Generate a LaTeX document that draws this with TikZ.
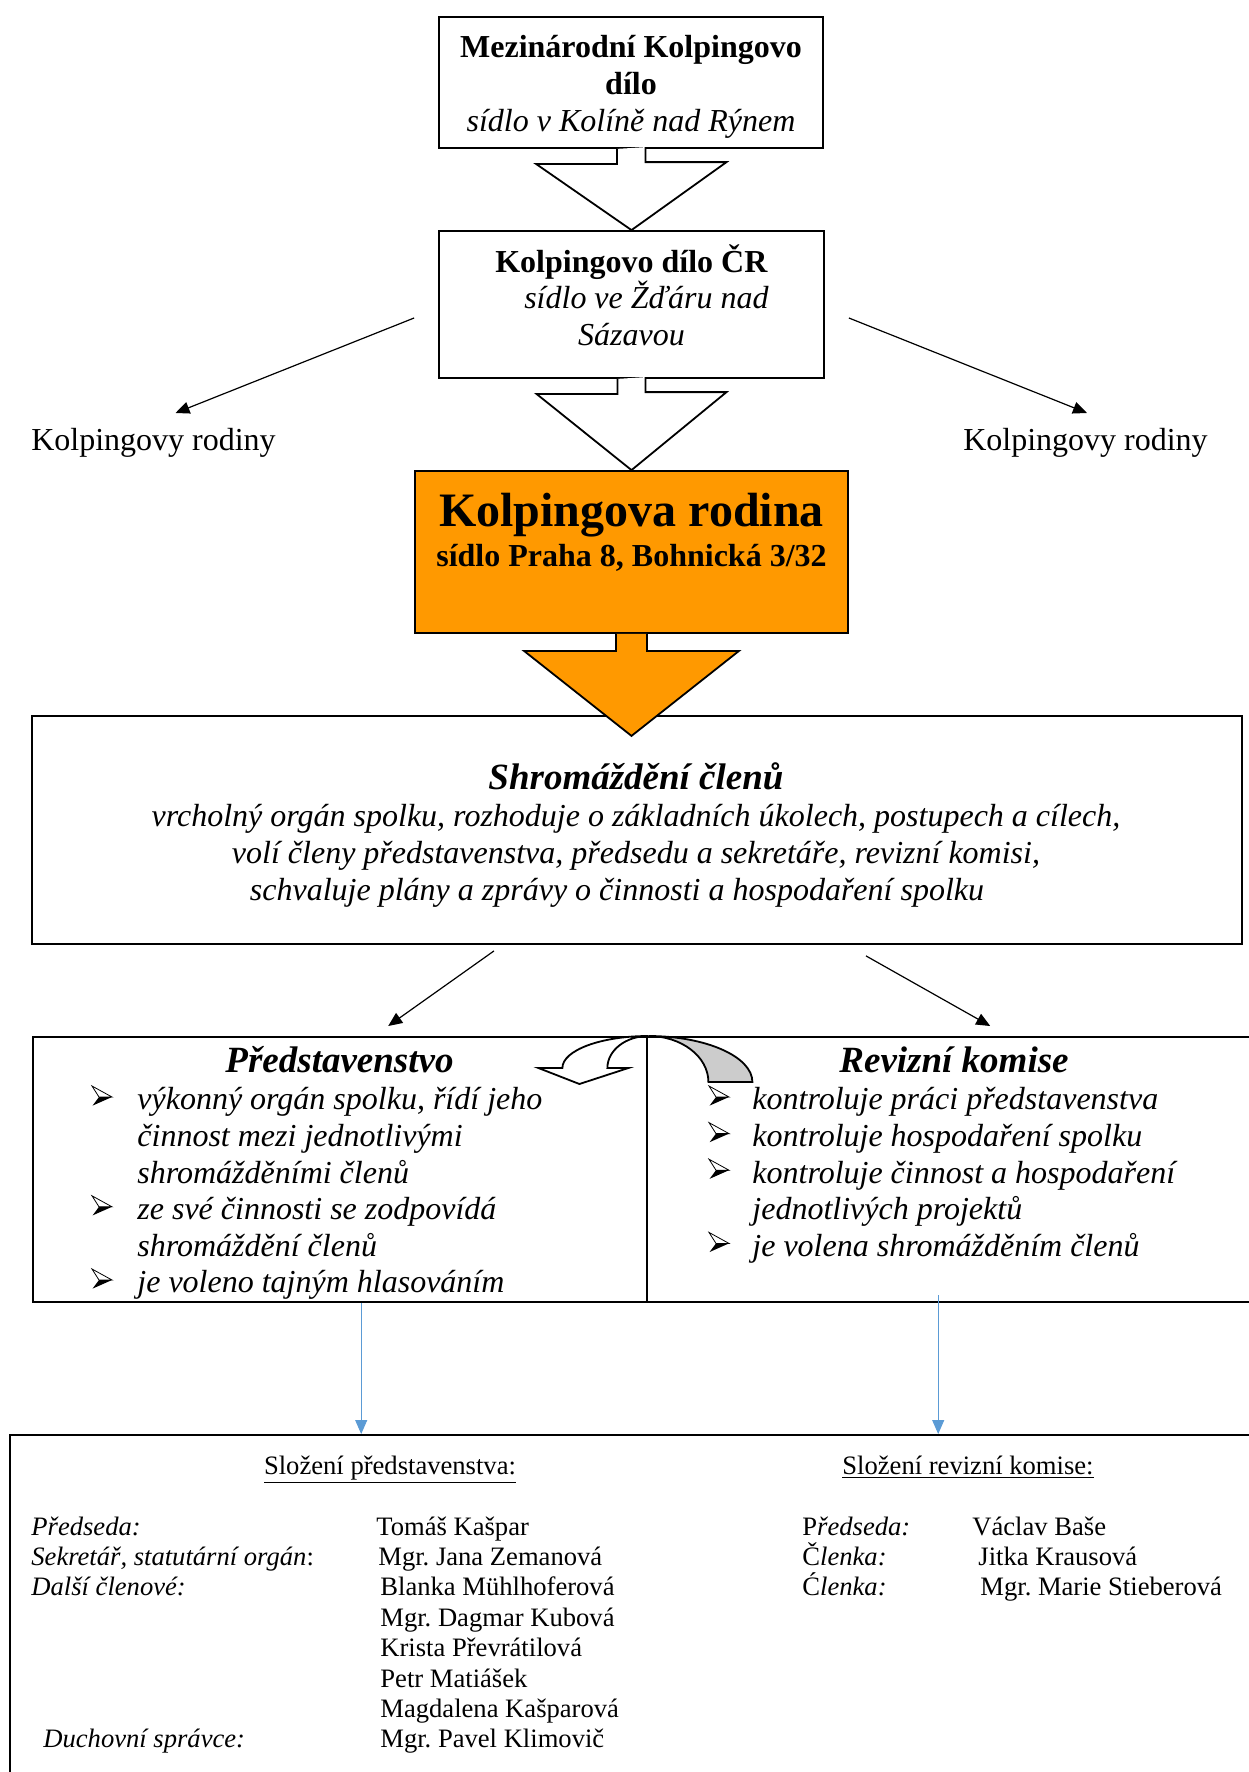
\documentclass[tikz,border=0pt]{standalone}
\usepackage{fontspec}
\setmainfont{Liberation Serif}
\frenchspacing
\usetikzlibrary{arrows.meta}

\definecolor{kporange}{HTML}{FF9900}
\definecolor{wordblue}{HTML}{5B9BD5}

\begin{document}
\begin{tikzpicture}[x=1pt, y=-1pt,
  box/.style={draw, line width=0.9pt, inner sep=0pt},
  hollow/.style={draw, fill=white, line width=0.9pt, line join=miter},
  arr/.style={-{Triangle[length=7pt, width=6pt]}, line width=0.6pt},
  bluearr/.style={-{Triangle[length=7pt, width=6pt]}, wordblue, line width=0.5pt},
  lbl/.style={anchor=base, yshift=-1.7pt, inner sep=0pt, text height=11pt, text depth=3.5pt, font=\fontsize{16}{18.5}\selectfont},
  itemline/.style={anchor=west, yshift=-1.7pt, inner sep=0pt, text height=11pt, text depth=3.5pt, font=\fontsize{16}{18.5}\selectfont\itshape},
  smalltxt/.style={anchor=west, yshift=-1pt, inner sep=0pt, text height=9pt, text depth=3pt, font=\fontsize{13.3}{15.25}\selectfont}]

\useasboundingbox (0,0) rectangle (624,886);

% top chain
\node (intl) [box, minimum width=192pt, minimum height=65.5pt] at (315.5,41.25) {};
\node (cr) [box, minimum width=192.5pt, minimum height=73.5pt] at (315.75,152.25) {};
\node (kr) [box, fill=kporange, minimum width=216.5pt, minimum height=81pt] at (315.75,276) {};
\foreach \y/\t [count=\i] in {27/\textbf{Mezinárodní Kolpingovo}, 45.5/\textbf{dílo}, 64/\textit{sídlo v Kolíně nad Rýnem}}
  \node (intl\i) [lbl] at (315.5,\y) {\t};
\foreach \y/\t [count=\i] in {134.7/\textbf{Kolpingovo dílo ČR}, 152.7/\hspace*{15pt}\textit{sídlo ve Žďáru nad}, 171.2/\textit{Sázavou}}
  \node (cr\i) [lbl] at (315.75,\y) {\t};
\node (kr1) [lbl, font=\fontsize{24}{28}\selectfont\bfseries] at (315.75,261.5) {Kolpingova rodina};
\node (kr2) [lbl, font=\fontsize{16}{18.5}\selectfont\bfseries] at (315.75,281.7) {sídlo Praha 8, Bohnická 3/32};

\foreach \a/\b/\d in {intl/cr/34, cr/kr/39}
  \draw [hollow] ([xshift=-7pt]\a.south) -- ++(0,7.5) -- ++(-40.5,0) -- (\b.north) -- ++(47.5,-\d) -- ++(-40.5,0) -- ++(0,-7.5);

% families
\node (famL) [lbl] at (76.75,223.7) {Kolpingovy rodiny};
\node (famR) [lbl] at (542.75,223.7) {Kolpingovy rodiny};
\draw [arr] ([xshift=-12pt, yshift=-6.75pt]cr.west) -- ([xshift=11pt, yshift=7.7pt]famL.north);
\draw [arr] ([xshift=12pt, yshift=-6.75pt]cr.east) -- ([xshift=0.75pt, yshift=7.7pt]famR.north);

% assembly
\node (shrom) [box, minimum width=605pt, minimum height=114pt] at (318.5,415) {};
\node (shrom0) [lbl, font=\fontsize{18.5}{20}\selectfont\bfseries\itshape] at (318,393) {Shromáždění členů};
\foreach \x/\y/\t [count=\i] in {318/411.7/{vrcholný orgán spolku, rozhoduje o základních úkolech, postupech a cílech,}, 318/430.2/{volí členy představenstva, předsedu a sekretáře, revizní komisi,}, 308.5/448.7/{schvaluje plány a zprávy o činnosti a hospodaření spolku}}
  \node (shrom\i) [lbl, font=\fontsize{16}{18.5}\selectfont\itshape] at (\x,\y) {\t};
\draw [hollow, fill=kporange] ([xshift=-7.75pt]kr.south) -- ++(0,8.5) -- ++(-46,0) -- ([yshift=-51pt]kr.south) -- ++(53.75,-42.5) -- ++(-46,0) -- ++(0,-8.5);

% board and audit
\node (pred) [box, line width=1.2pt, anchor=north west, minimum width=307pt, minimum height=132.5pt] at (16,518) {};
\node (rev) [box, line width=1.2pt, anchor=north west, minimum width=310pt, minimum height=132.5pt] at (323,518) {};
\draw [arr] ([xshift=-71.5pt, yshift=-3pt]shrom.south) -- ([xshift=24pt, yshift=5pt]pred.north);
\draw [arr] ([xshift=114.5pt, yshift=-5.5pt]shrom.south) -- ([xshift=16.5pt, yshift=5pt]rev.north);
\draw [hollow] (pred.north east) arc [start angle=90, end angle=180, x radius=43pt, y radius=16pt] -- ++(-12,0) -- ++(20.5,8) -- ++(24.5,-8) -- ++(-10.5,0) arc [start angle=180, end angle=90, x radius=20.5pt, y radius=16pt] -- cycle;
\draw [hollow, fill=gray!40] (pred.north east) arc [start angle=90, end angle=0, x radius=52pt, y radius=23pt] -- ++(-22,0) arc [start angle=0, end angle=90, x radius=30pt, y radius=23pt] -- cycle;

\node (predT) [lbl, font=\fontsize{18.5}{20}\selectfont\bfseries\itshape] at (169.75,534.5) {Představenstvo};
\node (revT) [lbl, font=\fontsize{18.5}{20}\selectfont\bfseries\itshape] at (477,534.5) {Revizní komise};
\foreach \t [count=\i] in {{výkonný orgán spolku, řídí jeho}, činnost mezi jednotlivými, shromážděními členů, ze své činnosti se zodpovídá, shromáždění členů, je voleno tajným hlasováním}
  \node (pl\i) [itemline] at (68.5,{549.5+18.3*(\i-1)}) {\t};
\foreach \t [count=\i] in {kontroluje práci představenstva, kontroluje hospodaření spolku, kontroluje činnost a hospodaření, jednotlivých projektů, je volena shromážděním členů}
  \node (rl\i) [itemline] at (376,{549.5+18.3*(\i-1)}) {\t};
% arrowhead bullets
\foreach \x/\i in {46/1, 46/4, 46/6, 354.5/1, 354.5/2, 354.5/3, 354.5/5} {
  \draw [fill=white, line width=0.4pt] (\x,{543+18.3*(\i-1)}) -- ++(10,5.5) -- ++(-6.5,0) -- cycle;
  \fill (\x+3.5,{548.5+18.3*(\i-1)}) -- ++(6.5,0) -- ++(-9.7,4.3) -- cycle;
}

% composition
\node (comp) [box, anchor=north west, minimum width=640pt, minimum height=200pt] at (4.5,717) {};
\coordinate (pout) at ([xshift=10.5pt]pred.south);
\coordinate (rout) at ([xshift=-9.5pt, yshift=4pt]rev.south);
\draw [bluearr] (pout) -- (pout |- comp.north);
\draw [bluearr] (rout) -- (rout |- comp.north);

\node (compP) [smalltxt, anchor=center] at (195,733) {\underline{Složení představenstva:}};
\node (compR) [smalltxt, anchor=center] at (484,733) {\underline{Složení revizní komise:}};
\foreach \t [count=\i] in {\textit{Předseda:}, {\textit{Sekretář, statutární orgán}:}, \textit{Další členové:}}
  \node (pf\i) [smalltxt] at (15.5,{763.5+15.2*(\i-1)}) {\t};
\node (pf8) [smalltxt] at (21.5,869.9) {\textit{Duchovní správce:}};
\foreach \x/\t [count=\i] in {188/Tomáš Kašpar, 189/Mgr. Jana Zemanová, 190/Blanka Mühlhoferová, 190/Mgr. Dagmar Kubová, 190/Krista Převrátilová, 190/Petr Matiášek, 190/Magdalena Kašparová, 190/Mgr. Pavel Klimovič}
  \node (pn\i) [smalltxt] at (\x,{763.5+15.2*(\i-1)}) {\t};
\foreach \t [count=\i] in {P\textit{ředseda:}, Č\textit{lenka:}, Ć\textit{lenka:}}
  \node (rf\i) [smalltxt] at (401,{763.5+15.2*(\i-1)}) {\t};
\foreach \x/\t [count=\i] in {486/Václav Baše, 489/Jitka Krausová, 490/Mgr. Marie Stieberová}
  \node (rn\i) [smalltxt] at (\x,{763.5+15.2*(\i-1)}) {\t};
\end{tikzpicture}
\end{document}
